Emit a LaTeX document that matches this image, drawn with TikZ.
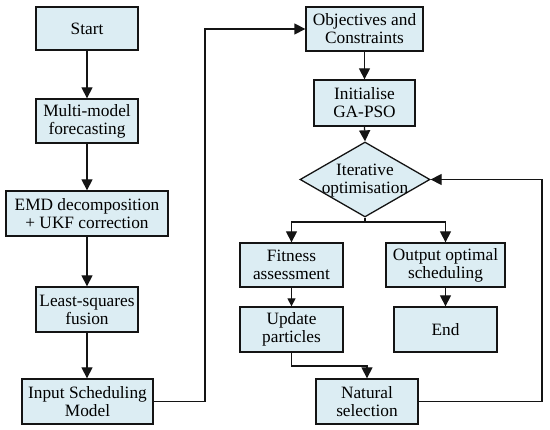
\documentclass[tikz,border=0pt]{standalone}
\usepackage{fontspec}
\setmainfont{Liberation Serif}
\usetikzlibrary{shapes.geometric,arrows.meta}
\definecolor{boxfill}{RGB}{220,237,243}
\definecolor{boxline}{RGB}{20,20,20}
\tikzset{
  box/.style={draw=boxline, fill=boxfill, line width=1.3pt, inner sep=0pt, align=center,
              font=\fontsize{17.3}{18}\selectfont},
  dia/.style={draw=boxline, fill=boxfill, line width=1.3pt, diamond, inner sep=0pt,
              minimum width=130pt, minimum height=75pt},
  diatext/.style={inner sep=0pt, align=center, font=\fontsize{17.3}{18}\selectfont},
  arr/.style={draw=boxline, line width=1.3pt, -{Triangle[length=11pt,width=11pt]}},
  arrs/.style={draw=boxline, line width=1.3pt, -{Triangle[length=8pt,width=8pt]}},
  ln/.style={draw=boxline, line width=1.3pt}
}
\begin{document}
\begin{tikzpicture}[x=1pt,y=-1pt]
\useasboundingbox (0,0) rectangle (550,430);
% left column
\node[box, minimum width=102pt, minimum height=43pt] (start) at (87,28.5) {Start};
\node[box, minimum width=102pt, minimum height=44pt] (multi) at (87,121) {Multi-model\\forecasting};
\node[box, minimum width=162pt, minimum height=45pt] (emd) at (87,213.5) {EMD decomposition\\+ UKF correction};
\node[box, minimum width=102pt, minimum height=45pt] (ls) at (87,309.5) {Least-squares\\fusion};
\node[box, minimum width=131pt, minimum height=45pt] (input) at (87.5,401.5) {Input Scheduling\\Model};
% right part
\node[box, minimum width=117pt, minimum height=44pt] (obj) at (364.5,29) {Objectives and\\Constraints};
\node[box, minimum width=101pt, minimum height=46pt] (init) at (364.5,103) {Initialise\\GA-PSO};
\node[dia] (iter) at (365,179.5) {};
\node[diatext] (itertext) at (365,181) {Iterative\\optimisation};
\node[box, minimum width=103pt, minimum height=44pt] (fit) at (291.5,265) {Fitness\\assessment};
\node[box, minimum width=103pt, minimum height=45pt] (upd) at (291.5,329.5) {Update\\particles};
\node[box, minimum width=119pt, minimum height=44pt] (out) at (445.5,265) {Output optimal\\scheduling};
\node[box, minimum width=103pt, minimum height=45pt] (end) at (445.5,329.5) {End};
\node[box, minimum width=102pt, minimum height=45pt] (nat) at (367,401.5) {Natural\\selection};
% connectors
\draw[arr] (start.south) -- (multi.north);
\draw[arr] (multi.south) -- (emd.north);
\draw[arr] (emd.south) -- (ls.north);
\draw[arr] (ls.south) -- (ls.south |- input.north);
\coordinate (jump) at (205,401.5);
\draw[arr] (input.east) -- (jump) |- (obj.west);
\draw[arr] (obj.south) -- (init.north);
\draw[arr] (init.south) -- (iter.north);
\coordinate (br) at (365,222);
\draw[ln] (iter.south) -- (br);
\draw[arr] (br) -| (fit.north);
\draw[arr] (br) -| (out.north);
\draw[arrs] (fit.south) -- (upd.north);
\draw[arr] (out.south) -- (end.north);
\coordinate (turn) at (291.5,366);
\draw[arr] (upd.south) -- (turn) -| (nat.north);
\coordinate (back) at (542,401.5);
\draw[arr] (nat.east) -- (back) |- (iter.east);
\end{tikzpicture}
\end{document}
